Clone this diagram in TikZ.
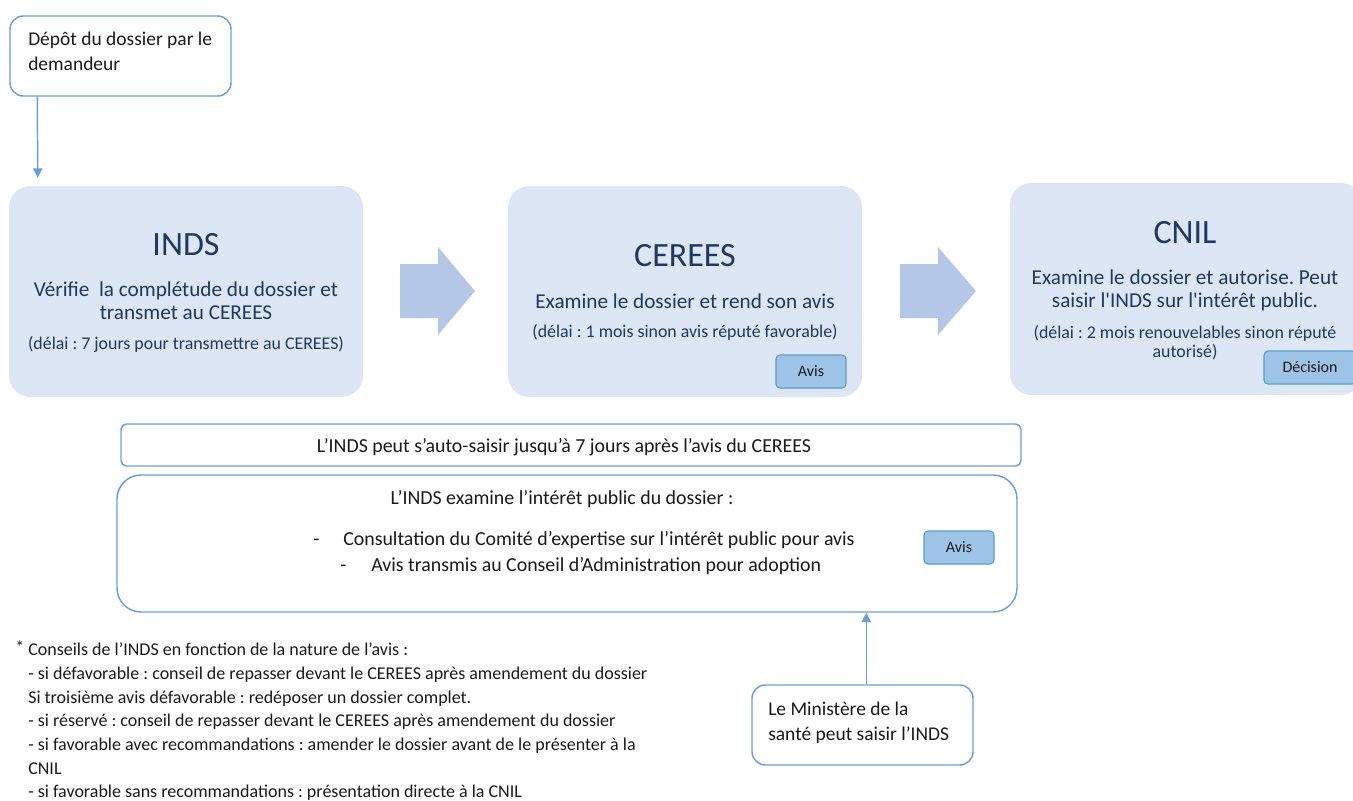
\documentclass[tikz,border=0pt]{standalone}
\usepackage{fontspec}
\setmainfont{Carlito}[Ligatures=TeXOff]
\usetikzlibrary{arrows.meta}
\definecolor{boxfill}{HTML}{DCE6F4}
\definecolor{bordblue}{HTML}{6A9FD8}
\definecolor{arrowfill}{HTML}{B4C7E7}
\definecolor{btnfill}{HTML}{9DC3E6}
\definecolor{btnborder}{HTML}{5B9BD5}
\definecolor{navy}{HTML}{1F3864}
\definecolor{ink}{HTML}{1A1A1A}
\def\pxu{0.75pt}
\frenchspacing
\begin{document}
\frenchspacing
\begin{tikzpicture}[x=0.75pt,y=-0.75pt,
  wbox/.style={draw=bordblue, line width=1.1pt, fill=white, inner sep=0pt},
  bluebox/.style={fill=boxfill, inner sep=0pt, rounded corners=16pt},
  btn/.style={draw=btnborder, line width=0.8pt, fill=btnfill, rounded corners=3pt, inner sep=0pt, font=\fontsize{12}{14}\selectfont, text=ink},
  ttl/.style={anchor=base, inner sep=0pt, text=navy, font=\fontsize{25.5}{30}\selectfont},
  sub/.style={anchor=base, inner sep=0pt, text=navy, font=\fontsize{15.9}{19}\selectfont},
  dly/.style={anchor=base, inner sep=0pt, text=navy, font=\fontsize{13.4}{16}\selectfont},
  plain/.style={inner sep=0pt, text=ink, font=\fontsize{14.6}{17}\selectfont},
  mid/.style={inner sep=0pt, text=ink, font=\fontsize{14.9}{17}\selectfont},
  foot/.style={anchor=base west, inner sep=0pt, text=ink, font=\fontsize{13.5}{16}\selectfont},
  conn/.style={draw=bordblue, line width=1.1pt, -{Triangle[length=7pt,width=7pt]}},
  blockarrow/.style={fill=arrowfill}
]
\useasboundingbox (0,0) rectangle (1353,800);

% depot box
\node[wbox, rounded corners=10pt, minimum width=221*\pxu, minimum height=80*\pxu] (depot) at (120.5,56) {};
\node[plain, anchor=base west] (dep1) at (28,45) {Dépôt du dossier par le};
\node[plain, anchor=base west] (dep2) at (28,70) {demandeur};

% main blue boxes
\node[bluebox, minimum width=354*\pxu, minimum height=211*\pxu] (inds) at (186,291.5) {};
\node[bluebox, minimum width=354*\pxu, minimum height=211*\pxu] (cerees) at (685,291.5) {};
\node[bluebox, minimum width=352*\pxu, minimum height=212*\pxu] (cnil) at (1186,289) {};

% depot -> inds
\draw[conn] ([xshift=28*\pxu]depot.south west) -- ([xshift=29*\pxu,yshift=8*\pxu]inds.north west);

% INDS texts
\node[ttl] (indsT) at (186,255) {INDS};
\node[sub] (indsS1) at (186,296) {Vérifie\ \ la complétude du dossier et};
\node[sub] (indsS2) at (186,319) {transmet au CEREES};
\node[dly] (indsD) at (186,349) {(délai : 7 jours pour transmettre au CEREES)};

% CEREES texts
\node[ttl] (cerT) at (685,266) {CEREES};
\node[sub] (cerS) at (685,308) {Examine le dossier et rend son avis};
\node[dly] (cerD) at (685,337) {(délai : 1 mois sinon avis réputé favorable)};
\node[btn, minimum width=70*\pxu, minimum height=33*\pxu] (avis1) at (811,371.5) {Avis};

% CNIL texts
\node[ttl] (cnilT) at (1185,243) {CNIL};
\node[sub] (cnilS1) at (1185,284) {Examine le dossier et autorise. Peut};
\node[sub] (cnilS2) at (1185,307) {saisir l'INDS sur l'intérêt public.};
\node[dly] (cnilD1) at (1185,338) {(délai : 2 mois renouvelables sinon réputé};
\node[dly] (cnilD2) at (1185,357) {autorisé)};
\node[btn, minimum width=92*\pxu, minimum height=33*\pxu] (decision) at (1310,367.5) {Décision};

% block arrows
\path[blockarrow] (400,264) -- (438,264) -- (438,247) -- (475,291) -- (438,335) -- (438,318) -- (400,318) -- cycle;
\path[blockarrow] (900,264) -- (938,264) -- (938,247) -- (976,291) -- (938,335) -- (938,318) -- (900,318) -- cycle;

% auto-saisine box
\node[wbox, rounded corners=4pt, minimum width=900*\pxu, minimum height=42*\pxu] (auto) at (571,445) {};
\node[mid, anchor=base] (autoT) at (564,452) {L’INDS peut s’auto-saisir jusqu’à 7 jours après l’avis du CEREES};

% examen box
\node[wbox, rounded corners=18pt, minimum width=900*\pxu, minimum height=137*\pxu] (exam) at (567,543.5) {};
\node[mid, anchor=base] (examT) at (562,504) {L’INDS examine l’intérêt public du dossier :};
\node[mid, anchor=base west] (dash1) at (313,545) {-};
\node[mid, anchor=base west] (exam1) at (343,545) {Consultation du Comité d’expertise sur l’intérêt public pour avis};
\node[mid, anchor=base west] (dash2) at (340,571) {-};
\node[mid, anchor=base west] (exam2) at (371,571) {Avis transmis au Conseil d’Administration pour adoption};
\node[btn, minimum width=70*\pxu, minimum height=33*\pxu] (avis2) at (959,547.5) {Avis};

% ministere box
\node[wbox, rounded corners=10pt, minimum width=221*\pxu, minimum height=80*\pxu] (minist) at (862.5,725) {};
\node[plain, anchor=base west] (min1) at (768,715) {Le Ministère de la};
\node[plain, anchor=base west] (min2) at (768,740) {santé peut saisir l’INDS};
\draw[conn] ([xshift=115*\pxu]minist.north west) -- ([xshift=750*\pxu]exam.south west);

% footnote
\node[foot] (f1) at (15,655) {\raisebox{1.5pt}{*} Conseils de l’INDS en fonction de la nature de l’avis :};
\node[foot] (f2) at (28,679) {- si défavorable : conseil de repasser devant le CEREES après amendement du dossier};
\node[foot] (f3) at (28,703) {Si troisième avis défavorable : redéposer un dossier complet.};
\node[foot] (f4) at (28,726) {- si réservé : conseil de repasser devant le CEREES après amendement du dossier};
\node[foot] (f5) at (28,750) {- si favorable avec recommandations : amender le dossier avant de le présenter à la};
\node[foot] (f6) at (28,774) {CNIL};
\node[foot] (f7) at (28,797) {- si favorable sans recommandations : présentation directe à la CNIL};
\end{tikzpicture}
\end{document}
